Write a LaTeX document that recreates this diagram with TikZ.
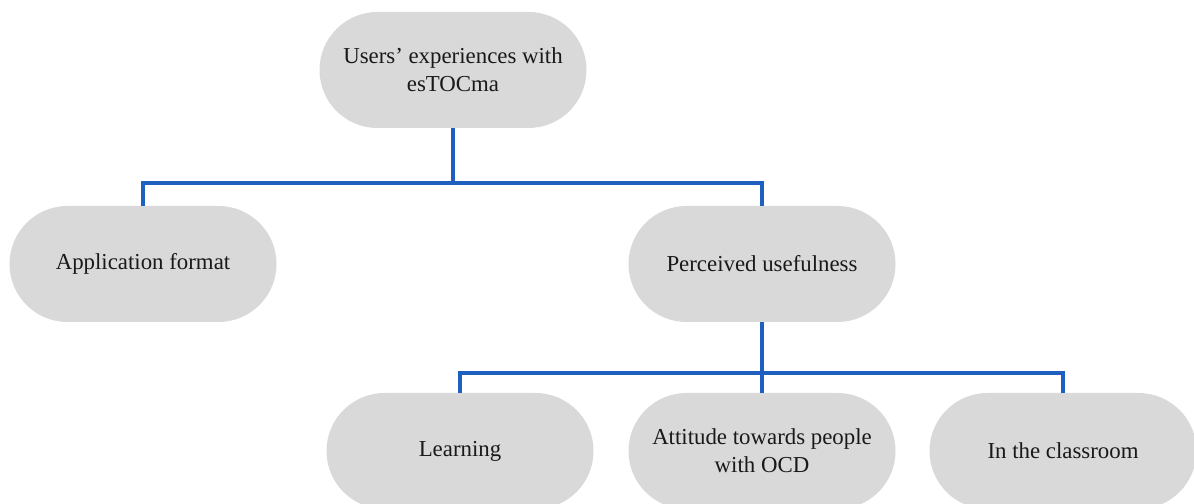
\documentclass[tikz,border=0pt]{standalone}
\usepackage{fontspec}
\setmainfont{Liberation Serif}
\usepackage{xcolor}
\usepackage{tikz}

\definecolor{boxgray}{HTML}{D9D9D9}
\definecolor{linkblue}{HTML}{1F5FBF}

\begin{document}
\begin{tikzpicture}[
    theme/.style={fill=boxgray, rounded corners=1.16cm, minimum width=5.34cm,
      minimum height=2.32cm, align=center, text=black!90,
      font=\fontsize{13}{16}\selectfont},
    link/.style={draw=linkblue, line width=1.9pt}
  ]
      % Page frame
      \clip (0,0) rectangle (23.88,10.08);

      % Top theme
      \node[theme] (users) at (9.06,8.68) {Users’ experiences with\\esTOCma};

      % Second level
      \node[theme] (format) at (2.86,4.80) {Application format};
      \node[theme] (useful) at (15.24,4.80) {Perceived usefulness};

      % Third level
      \node[theme] (learning) at (9.20,1.06) {Learning};
      \node[theme] (attitude) at (15.24,1.06) {Attitude towards people\\with OCD};
      \node[theme] (classroom) at (21.26,1.06) {In the classroom};

      % Junctions
      \coordinate (split1) at (users.south |- 0,6.42);
      \coordinate (split2) at (useful.south |- 0,2.62);

      % Links to second level
      \draw[link] (users.south) -- (split1);
      \draw[link] (format.north) |- (split1) -| (useful.north);

      % Links to third level
      \draw[link] (useful.south) -- (split2);
      \draw[link] (learning.north) |- (split2) -| (classroom.north);
      \draw[link] (split2) -- (attitude.north);

  \end{tikzpicture}
\end{document}
